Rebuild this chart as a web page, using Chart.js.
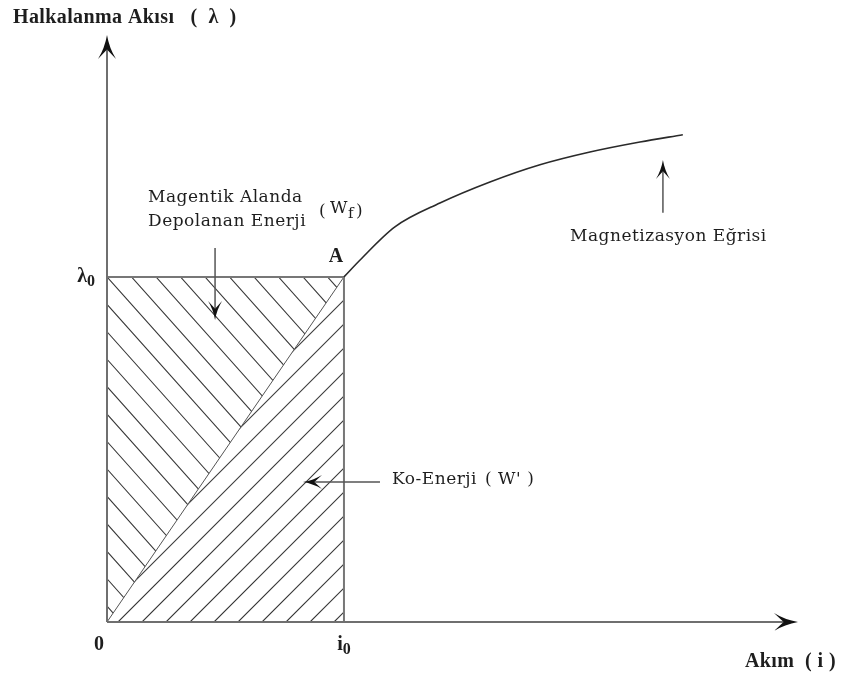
<!DOCTYPE html>
<html>
<head>
<meta charset="utf-8">
<script src="https://cdn.jsdelivr.net/npm/chart.js@4.4.0/dist/chart.umd.min.js"></script>
<style>
  html, body { margin: 0; padding: 0; background: #fff; }
  canvas { display: block; }
</style>
</head>
<body>
<canvas id="chart" width="844" height="677"></canvas>
<script>
// current i and flux linkage lambda, in units of i0 and lambda0
const curveI      = [1.000, 1.068, 1.215, 1.405, 1.616, 1.827, 2.038, 2.249, 2.430];
const curveLambda = [1.000, 1.049, 1.145, 1.214, 1.275, 1.325, 1.362, 1.391, 1.412];

const i0 = 1;
const lambda0 = 1;

const iRange = [0, 2.916];
const lambdaRange = [0, 1.701];

// text placed on the diagram: [text, i, lambda]
const captions = [
  ['Magentik Alanda', 0.173, 1.229],
  ['Depolanan Enerji', 0.173, 1.159],
  ['Magnetizasyon Eğrisi', 1.954, 1.116],
  ['Ko-Enerji', 1.203, 0.412]
];

// pointer arrows: [fromI, fromLambda, toI, toLambda]
const pointers = [
  [0.456, 1.084, 0.456, 0.875],
  [2.346, 1.186, 2.346, 1.339],
  [1.152, 0.406, 0.827, 0.406]
];

const INK = '#1e1e1e';
const AXIS = '#6f6f6f';
const SERIF = '17px "DejaVu Serif", serif';
const SERIF_SUB = '15px "DejaVu Serif", serif';
const BOLD = 'bold 20px "Liberation Serif", serif';
const BOLD_SUB = 'bold 16px "Liberation Serif", serif';

function xy(chart, i, l) {
  return { x: chart.scales.x.getPixelForValue(i), y: chart.scales.y.getPixelForValue(l) };
}

function arrowHead(ctx, x1, y1, x2, y2, len, half) {
  const a = Math.atan2(y2 - y1, x2 - x1);
  ctx.beginPath();
  ctx.moveTo(x1, y1);
  ctx.lineTo(x2 - Math.cos(a) * len * 0.6, y2 - Math.sin(a) * len * 0.6);
  ctx.stroke();
  ctx.save();
  ctx.translate(x2, y2);
  ctx.rotate(a);
  ctx.beginPath();
  ctx.moveTo(0, 0);
  ctx.quadraticCurveTo(-len * 0.55, -half * 0.25, -len, -half);
  ctx.lineTo(-len * 0.6, 0);
  ctx.lineTo(-len, half);
  ctx.quadraticCurveTo(-len * 0.55, half * 0.25, 0, 0);
  ctx.fill();
  ctx.restore();
}

// parallel lines clipped to a polygon; dir = 1 for "\" and -1 for "/"
function hatch(ctx, poly, dir, slope, step, phase) {
  const xs = poly.map(p => p.x), ys = poly.map(p => p.y);
  const x0 = Math.min(...xs), x1 = Math.max(...xs);
  const y0 = Math.min(...ys), y1 = Math.max(...ys);
  const run = (y1 - y0) / slope;
  ctx.save();
  ctx.beginPath();
  poly.forEach((p, k) => k ? ctx.lineTo(p.x, p.y) : ctx.moveTo(p.x, p.y));
  ctx.closePath();
  ctx.clip();
  ctx.beginPath();
  let start = x0 + phase;
  while (start > x0 - run - step) start -= step;
  for (let x = start; x < x1 + run + step; x += step) {
    if (dir > 0) {
      ctx.moveTo(x, y0);
      ctx.lineTo(x + run, y1);
    } else {
      ctx.moveTo(x, y1);
      ctx.lineTo(x + run, y0);
    }
  }
  ctx.strokeStyle = '#3a3a3a';
  ctx.lineWidth = 1.1;
  ctx.stroke();
  ctx.restore();
}

function subText(ctx, main, sub, x, y, mainFont, subFont, align) {
  ctx.font = mainFont;
  const w1 = ctx.measureText(main).width;
  ctx.font = subFont;
  const w2 = ctx.measureText(sub).width;
  let left = x;
  if (align === 'right') left = x - w1 - w2;
  if (align === 'center') left = x - (w1 + w2) / 2;
  ctx.textAlign = 'left';
  ctx.font = mainFont;
  ctx.fillText(main, left, y);
  ctx.font = subFont;
  ctx.fillText(sub, left + w1, y + 5);
  return left + w1 + w2;
}

const energyAreas = {
  id: 'energyAreas',
  beforeDatasetsDraw(chart) {
    const ctx = chart.ctx;
    const o = xy(chart, 0, 0);
    const top = xy(chart, 0, lambda0);
    const a = xy(chart, i0, lambda0);
    const foot = xy(chart, i0, 0);
    hatch(ctx, [o, top, a], 1, 1.12, 24.5, 0);
    hatch(ctx, [o, foot, a], -1, 1.0, 24, 11);
  }
};

const overlay = {
  id: 'overlay',
  afterDatasetsDraw(chart) {
    const ctx = chart.ctx;
    const o = xy(chart, 0, 0);
    const yEnd = xy(chart, 0, lambdaRange[1]);
    const xEnd = xy(chart, iRange[1], 0);

    ctx.save();
    ctx.strokeStyle = AXIS;
    ctx.fillStyle = '#111';
    ctx.lineWidth = 2;
    arrowHead(ctx, o.x, o.y, yEnd.x, yEnd.y, 24, 9);
    arrowHead(ctx, o.x, o.y, xEnd.x, xEnd.y, 24, 9);

    ctx.strokeStyle = '#555';
    ctx.lineWidth = 1.5;
    pointers.forEach(p => {
      const s = xy(chart, p[0], p[1]);
      const e = xy(chart, p[2], p[3]);
      arrowHead(ctx, s.x, s.y, e.x, e.y, 19, 7);
    });

    ctx.fillStyle = INK;
    ctx.textBaseline = 'middle';

    // axis titles and ticks
    ctx.letterSpacing = '0.4px';
    let p = xy(chart, -0.397, 1.750);
    ctx.font = BOLD;
    ctx.textAlign = 'left';
    ctx.fillText('Halkalanma Akısı   (  λ  )', p.x, p.y);

    p = xy(chart, iRange[1] - 0.224, -0.116);
    ctx.fillText('Akım  ( i )', p.x, p.y);
    ctx.letterSpacing = '0px';

    p = xy(chart, 0, -0.067);
    ctx.textAlign = 'center';
    ctx.fillText('0', p.x - 8, p.y);

    p = xy(chart, i0, -0.067);
    subText(ctx, 'i', '0', p.x, p.y, BOLD, BOLD_SUB, 'center');

    p = xy(chart, 0, lambda0);
    subText(ctx, 'λ', '0', p.x - 12, p.y, BOLD, BOLD_SUB, 'right');

    p = xy(chart, i0, lambda0);
    ctx.font = BOLD;
    ctx.textAlign = 'center';
    ctx.fillText('A', p.x - 8, p.y - 20);

    // captions
    ctx.letterSpacing = '0.5px';
    ctx.font = SERIF;
    ctx.textAlign = 'left';
    captions.forEach(c => {
      const q = xy(chart, c[1], c[2]);
      ctx.fillText(c[0], q.x, q.y);
    });

    p = xy(chart, 0.895, 1.188);
    ctx.font = SERIF;
    ctx.fillText('(', p.x, p.y);
    const end = subText(ctx, 'W', 'f', p.x + 11, p.y - 3, SERIF, SERIF_SUB, 'left');
    ctx.font = SERIF;
    ctx.fillText(')', end + 2, p.y);

    p = xy(chart, 1.203, 0.412);
    ctx.font = SERIF;
    const kw = ctx.measureText('Ko-Enerji').width;
    ctx.fillText("( W' )", p.x + kw + 8, p.y);

    ctx.restore();
  }
};

const curvePoints = curveI.map((v, k) => ({ x: v, y: curveLambda[k] }));

new Chart(document.getElementById('chart'), {
  type: 'scatter',
  data: {
    datasets: [
      {
        label: 'Magnetizasyon Eğrisi',
        data: curvePoints,
        showLine: true,
        borderColor: '#2a2a2a',
        borderWidth: 1.6,
        pointRadius: 0,
        cubicInterpolationMode: 'monotone'
      },
      {
        label: 'rect',
        data: [{ x: 0, y: lambda0 }, { x: i0, y: lambda0 }, { x: i0, y: 0 }],
        showLine: true,
        borderColor: '#777',
        borderWidth: 2,
        pointRadius: 0,
        tension: 0
      },
      {
        label: 'diag',
        data: [{ x: 0, y: 0 }, { x: i0, y: lambda0 }],
        showLine: true,
        borderColor: '#555',
        borderWidth: 1,
        pointRadius: 0,
        tension: 0
      }
    ]
  },
  options: {
    responsive: false,
    animation: false,
    events: [],
    layout: { padding: { left: 107, right: 46, top: 35, bottom: 55 } },
    scales: {
      x: { type: 'linear', min: iRange[0], max: iRange[1], display: false },
      y: { type: 'linear', min: lambdaRange[0], max: lambdaRange[1], display: false }
    },
    plugins: {
      legend: { display: false },
      tooltip: { enabled: false }
    }
  },
  plugins: [energyAreas, overlay]
});
</script>
</body>
</html>
